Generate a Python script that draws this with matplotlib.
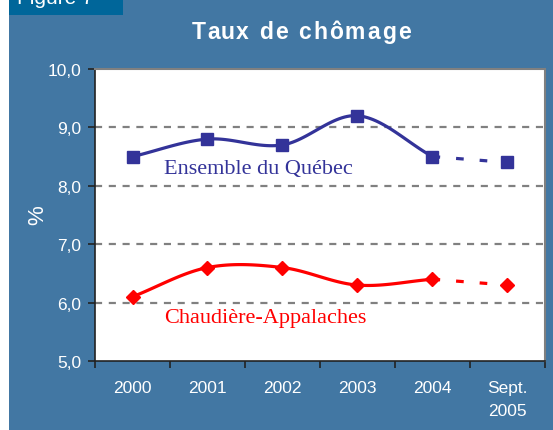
import matplotlib.pyplot as plt
from matplotlib.patches import Rectangle
from matplotlib.font_manager import FontProperties
import numpy as np

categories = ['2000', '2001', '2002', '2003', '2004', 'Sept.\n2005']
quebec = [8.5, 8.8, 8.7, 9.2, 8.5, 8.4]
chaudiere = [6.1, 6.6, 6.6, 6.3, 6.4, 6.3]
yticks = [5.0, 6.0, 7.0, 8.0, 9.0, 10.0]

BG = '#4277a3'
BLUE = '#333399'
RED = '#ff0000'
W, H = 553, 431


def smooth(x, y, n=30):
    # Catmull-Rom path through the points (like Excel's smoothed lines)
    x = np.asarray(x, float)
    y = np.asarray(y, float)
    px = np.concatenate([[2 * x[0] - x[1]], x, [2 * x[-1] - x[-2]]])
    py = np.concatenate([[2 * y[0] - y[1]], y, [2 * y[-1] - y[-2]]])
    xs, ys = [], []
    t = np.linspace(0, 1, n)
    for i in range(1, len(px) - 2):
        for p, out in ((px, xs), (py, ys)):
            p0, p1, p2, p3 = p[i - 1], p[i], p[i + 1], p[i + 2]
            out.extend(0.5 * (2 * p1 + (-p0 + p2) * t
                              + (2 * p0 - 5 * p1 + 4 * p2 - p3) * t ** 2
                              + (-p0 + 3 * p1 - 3 * p2 + p3) * t ** 3))
    return xs, ys


def spaced_text(fig, s, xc, yb, spacing, prop, **kw):
    # draw text char by char with extra letter spacing (pixels), centred at xc
    r = fig.canvas.get_renderer()

    def width(txt):
        return r.get_text_width_height_descent(txt, prop, ismath=False)[0]

    base = width('x')
    adv = [width(s[:i] + 'x') - base for i in range(len(s) + 1)]
    total = adv[-1] + spacing * (len(s) - 1)
    x0 = xc - total / 2
    for i, ch in enumerate(s):
        if ch == ' ':
            continue
        fig.text((x0 + adv[i] + spacing * i) / W, 1 - yb / H, ch,
                 fontproperties=prop, ha='left', va='baseline', **kw)


fig = plt.figure(figsize=(W / 100, H / 100), dpi=100)
fig.patch.set_facecolor('white')
fig.add_artist(Rectangle((9 / W, 0), 1 - 9 / W, 1, transform=fig.transFigure,
                         facecolor=BG, edgecolor='none', zorder=0))
fig.add_artist(Rectangle((9 / W, 1 - 16 / H), 114 / W, 16 / H, transform=fig.transFigure,
                         facecolor='#00669a', edgecolor='none', zorder=1))
fig.text(17 / W, 1 - 4 / H, 'Figure 7', color='white', fontsize=15,
         family='Liberation Sans', ha='left', va='baseline', zorder=2)

title_prop = FontProperties(family='Liberation Sans', weight='bold', size=16.5)
spaced_text(fig, 'Taux de chômage', 301, 39, 2.0, title_prop, color='white')

ax = fig.add_axes([95 / W, 1 - 362 / H, 450 / W, 292 / H])
ax.set_facecolor('white')
x = np.arange(len(categories))

for vals, col, mk, ms in ((quebec, BLUE, 's', 8), (chaudiere, RED, 'D', 7)):
    sx, sy = smooth(x[:5], vals[:5])
    ax.plot(sx, sy, color=col, lw=2.3, solid_capstyle='round', zorder=3)
    ax.plot(x[4:], vals[4:], color=col, lw=2.3, dashes=(2.4, 5.0),
            dash_capstyle='butt', zorder=3)
    ax.plot(x, vals, linestyle='none', marker=mk, color=col, markersize=ms, zorder=4)

ax.text(0.42, 8.3, 'Ensemble du Québec', color=BLUE, fontsize=16,
        family='Liberation Serif', ha='left', va='center')
ax.text(0.42, 5.75, 'Chaudière-Appalaches', color=RED, fontsize=16,
        family='Liberation Serif', ha='left', va='center')

ax.set_xlim(-0.5, len(categories) - 0.5)
ax.set_ylim(5, 10)
ax.set_yticks(yticks)
ax.set_yticklabels([f'{v:.1f}'.replace('.', ',') for v in yticks])
ax.set_xticks(x)
ax.set_xticklabels(categories, linespacing=1.6)
ax.set_xticks(np.arange(-0.5, len(categories)), minor=True)
ax.tick_params(axis='x', which='major', length=0, pad=14)
ax.tick_params(axis='x', which='minor', length=5, direction='out', color='#222222', width=1.2)
ax.tick_params(axis='y', length=5, direction='out', color='#222222', width=1.2, pad=5)
for lab in ax.get_xticklabels() + ax.get_yticklabels():
    lab.set_color('white')
    lab.set_fontsize(12.5)
    lab.set_family('Liberation Sans')
for lab in ax.get_xticklabels():
    lab.set_va('top')

for v in yticks[1:-1]:
    ax.axhline(v, color='#808080', lw=1.6, dashes=(3.2, 3.0), zorder=1)

ax.spines['left'].set_color('#222222')
ax.spines['bottom'].set_color('#222222')
ax.spines['left'].set_linewidth(1.2)
ax.spines['bottom'].set_linewidth(1.2)
ax.spines['top'].set_color('#808080')
ax.spines['right'].set_color('#808080')
ax.spines['top'].set_linewidth(1.5)
ax.spines['right'].set_linewidth(1.5)

fig.text(38 / W, 1 - 215 / H, '%', color='white', fontsize=16, rotation=90,
         family='Liberation Sans', ha='center', va='center')

fig.savefig('out.png', dpi=100, facecolor=fig.get_facecolor())
